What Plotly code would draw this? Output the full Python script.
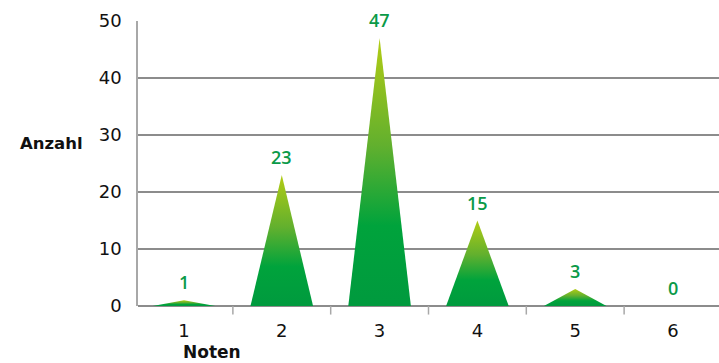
import plotly.graph_objects as go

categories = [1, 2, 3, 4, 5, 6]
values = [1, 23, 47, 15, 3, 0]
y_ticks = [0, 10, 20, 30, 40, 50]

HALF_W = 0.32
FONT = "Open Sans"
TICKFONT = "DejaVu Sans"
LABEL_GREEN = "#0a9a48"
GRID = "#8c8c8c"

fig = go.Figure()

for c, v in zip(categories, values):
    if v <= 0:
        continue
    fig.add_trace(go.Scatter(
        x=[c - HALF_W, c, c + HALF_W, c - HALF_W],
        y=[0, v, 0, 0],
        mode="lines",
        line=dict(width=0),
        fill="toself",
        fillgradient=dict(
            type="vertical",
            start=0,
            stop=v,
            colorscale=[[0, "#009a3e"], [0.3, "#00a33c"], [0.6, "#62b02e"], [1, "#b2cc14"]],
        ),
        hoverinfo="skip",
        showlegend=False,
    ))

annotations = []
for c, v in zip(categories, values):
    annotations.append(dict(
        x=c, y=v, xref="x", yref="y", text=str(v), showarrow=False,
        yanchor="middle", yshift=18,
        font=dict(family=FONT, size=18, color=LABEL_GREEN, weight=600),
    ))

annotations.append(dict(
    x=18, y=143, xref="paper", yref="paper", text="<b>Anzahl</b>", showarrow=False,
    xanchor="left", yanchor="middle",
    font=dict(family=TICKFONT, size=16.5, color="#111111"),
))
annotations.append(dict(
    x=181, y=352, xref="paper", yref="paper", text="<b>Noten</b>", showarrow=False,
    xanchor="left", yanchor="middle",
    font=dict(family=TICKFONT, size=17, color="#111111"),
))

W, H = 719, 363
ML, MR, MT, MB = 138, 0, 21, 57
pw, ph = W - ML - MR, H - MT - MB
for a in annotations[-2:]:
    a["x"] = (a["x"] - ML) / pw
    a["y"] = 1 - (a["y"] - MT) / ph

fig.update_layout(
    width=W, height=H,
    margin=dict(l=ML, r=MR, t=MT, b=MB, pad=0),
    plot_bgcolor="white", paper_bgcolor="white",
    annotations=annotations,
    xaxis=dict(
        range=[0.53, 6.47],
        tickmode="array", tickvals=categories, ticktext=[str(c) for c in categories],
        showgrid=False, zeroline=False,
        showline=False,
        ticks="", ticklabelstandoff=12,
        tickfont=dict(family=TICKFONT, size=18, color="#111111"),
        fixedrange=True,
    ),
    yaxis=dict(
        range=[0, 50],
        tickmode="array", tickvals=y_ticks,
        showgrid=True, gridcolor=GRID, gridwidth=1.5,
        zeroline=True, zerolinecolor=GRID, zerolinewidth=1.5,
        showline=True, linecolor="#a8a8a8", linewidth=1.5,
        ticks="", ticklabelstandoff=11,
        tickfont=dict(family=TICKFONT, size=18, color="#111111"),
        fixedrange=True,
    ),
    shapes=[
        dict(type="line", xref="x", yref="paper", x0=b + 0.5, x1=b + 0.5, y0=0, y1=-0.03,
             line=dict(color="#a8a8a8", width=1.5))
        for b in categories
    ],
)

fig.write_html("out.html")
